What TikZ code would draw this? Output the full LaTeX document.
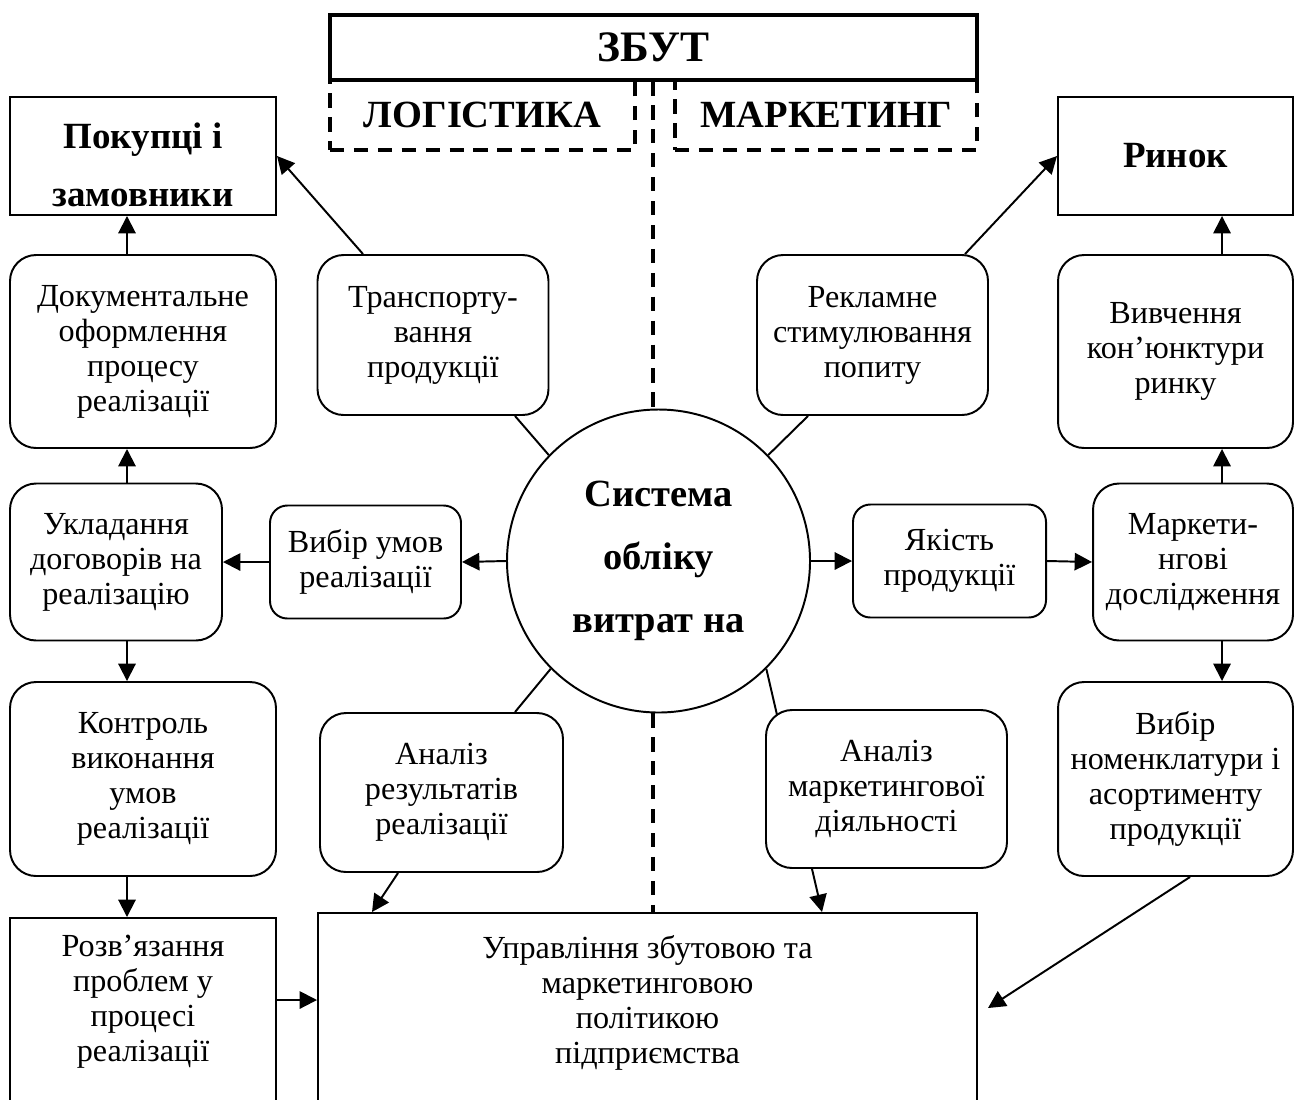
\documentclass[tikz,border=0pt]{standalone}
\usepackage{fontspec}
\setmainfont{Liberation Serif}
\usetikzlibrary{arrows.meta,calc}
\newcommand\regf{\fontsize{14.8}{16.1}\selectfont}
\newcommand\boldf{\fontsize{17}{26.7}\selectfont\bfseries}
\newcommand\headf{\fontsize{17.7}{20}\selectfont\bfseries}
\newcommand\zbutf{\fontsize{20}{22}\selectfont\bfseries}
\newcommand\circf{\fontsize{17.7}{29}\selectfont\bfseries}
\begin{document}
\begin{tikzpicture}[x=0.46pt,y=-0.46pt,
  wh/.style 2 args={minimum width=#1*0.46pt, minimum height=#2*0.46pt},
  rbox/.style={draw, line width=0.9pt, rounded corners=12pt, align=center, font=\regf, inner sep=1pt},
  rsbox/.style={rbox, rounded corners=8pt},
  sqbox/.style={draw, line width=0.9pt, align=center, inner sep=1pt},
  dbox/.style={draw, line width=1.4pt, dash pattern=on 6.5pt off 4.5pt, align=center, font=\headf},
  dashline/.style={line width=1.4pt, dash pattern=on 6.5pt off 4.5pt},
  conn/.style={line width=0.9pt},
  arr/.style={line width=0.9pt, -{Triangle[length=8pt,width=8pt]}}]
\useasboundingbox (0,0) rectangle (1294,1099);
% top blocks
\node[dbox, wh={305}{70}] (logist) at (482.5,115) {ЛОГІСТИКА};
\node[dbox, wh={302}{70}] (market) at (826,115) {МАРКЕТИНГ};
\node[sqbox, line width=1.4pt, wh={647}{65}, font=\zbutf] (zbut) at (653.5,47.5) {ЗБУТ};
% left column
\node[sqbox, wh={266}{118}, font=\boldf] (pokup) at (143,156) {\rule{0pt}{20pt}Покупці і\\замовники};
\node[rbox, wh={266}{193}] (dok) at (143,351.5) {Документальне\\оформлення\\процесу\\реалізації};
\node[rbox, wh={212}{157}] (uklad) at (116,562) {Укладання\\договорів на\\реалізацію};
\node[rbox, wh={266}{194}] (kontrol) at (143,779) {Контроль\\виконання\\умов\\реалізації};
\node[sqbox, anchor=north, minimum width=266*0.46pt, inner ysep=8pt] (rozv) at (143,917)
  {\parbox[t][72.8pt][t]{118pt}{\centering\regf Розв’язання\\проблем у\\процесі\\реалізації}};
% right column
\node[sqbox, wh={235}{118}, font=\boldf] (rynok) at (1175.5,156) {Ринок};
\node[rbox, wh={235}{193}] (vyvch) at (1175.5,351.5) {Вивчення\\кон’юнктури\\ринку};
\node[rbox, wh={200}{157}] (mdosl) at (1193,562) {Маркети-\\нгові\\дослідження};
\node[rbox, wh={235}{194}] (vybnom) at (1175.5,779) {Вибір\\номенклатури і\\асортименту\\продукції};
% middle
\node[rbox, wh={231}{160}] (transp) at (433,335) {Транспорту-\\вання\\продукції};
\node[rbox, wh={231}{160}] (reklam) at (872.5,335) {Рекламне\\стимулювання\\попиту};
\node[rsbox, wh={191}{113}] (vybum) at (365.5,562) {Вибір умов\\реалізації};
\node[rsbox, wh={193}{113}] (yakist) at (949.5,561) {Якість\\продукції};
\node[draw, circle, line width=0.9pt, minimum size=303*0.46pt, inner sep=0pt, align=center, font=\circf] (sys) at (658.5,561) {Система\\обліку\\витрат на};
\node[rbox, wh={243}{159}] (analres) at (441.5,792.5) {Аналіз\\результатів\\реалізації};
\node[rbox, wh={241}{158}] (analmark) at (886.5,789) {Аналіз\\маркетингової\\діяльності};
\node[sqbox, anchor=north, minimum width=659*0.46pt, inner ysep=10.3pt] (upr) at (647.5,912)
  {\parbox[t][70.5pt][t]{250pt}{\centering\regf Управління збутовою та\\маркетинговою\\політикою\\підприємства}};
% helper coordinates
\coordinate (lx) at (127,0);
\coordinate (rx) at (1222,0);
\coordinate (dl) at (653,0);
\coordinate (by) at (0,1000);
\coordinate (uprtip) at (988,1008);
% dashed divider
\draw[dashline] (zbut.south -| dl) -- (sys.north -| dl);
\draw[dashline] (sys.south -| dl) -- (upr.north -| dl);
% left chain
\draw[arr] (dok.north -| lx) -- (pokup.south -| lx);
\draw[arr] (uklad.north -| lx) -- (dok.south -| lx);
\draw[arr] (uklad.south -| lx) -- (kontrol.north -| lx);
\draw[arr] (kontrol.south -| lx) -- (rozv.north -| lx);
\draw[arr] (rozv.east |- by) -- (upr.west |- by);
\draw[arr] (sys.west) -- (vybum.east);
\draw[arr] (vybum.west) -- (uklad.east);
% right chain
\draw[arr] (sys.east) -- (yakist.west);
\draw[arr] (yakist.east) -- (mdosl.west);
\draw[arr] (mdosl.north -| rx) -- (vyvch.south -| rx);
\draw[arr] (vyvch.north -| rx) -- (rynok.south -| rx);
\draw[arr] (mdosl.south -| rx) -- (vybnom.north -| rx);
\draw[arr] ($(vybnom.south)+(14.5,0)$) -- (uprtip);
% diagonal links
\draw[arr] ($(transp.north)+(-70,0)$) -- (pokup.east);
\draw[arr] ($(reklam.north)+(92.5,0)$) -- (rynok.west);
\draw[conn] (sys.136) -- ($(transp.south)+(82,0)$);
\draw[conn] (sys.44) -- ($(reklam.south)+(-64.5,0)$);
\draw[conn] (sys.225) -- ($(analres.north)+(73.5,0)$);
\draw[conn] (sys.-45) -- ($(analmark.north west)+(12,6)$);
\draw[arr] ($(analres.south)+(-43.5,0)$) -- ($(upr.north)+(-275.5,0)$);
\draw[arr] ($(analmark.south)+(-74.5,0)$) -- ($(upr.north)+(174.5,0)$);
\end{tikzpicture}
\end{document}
